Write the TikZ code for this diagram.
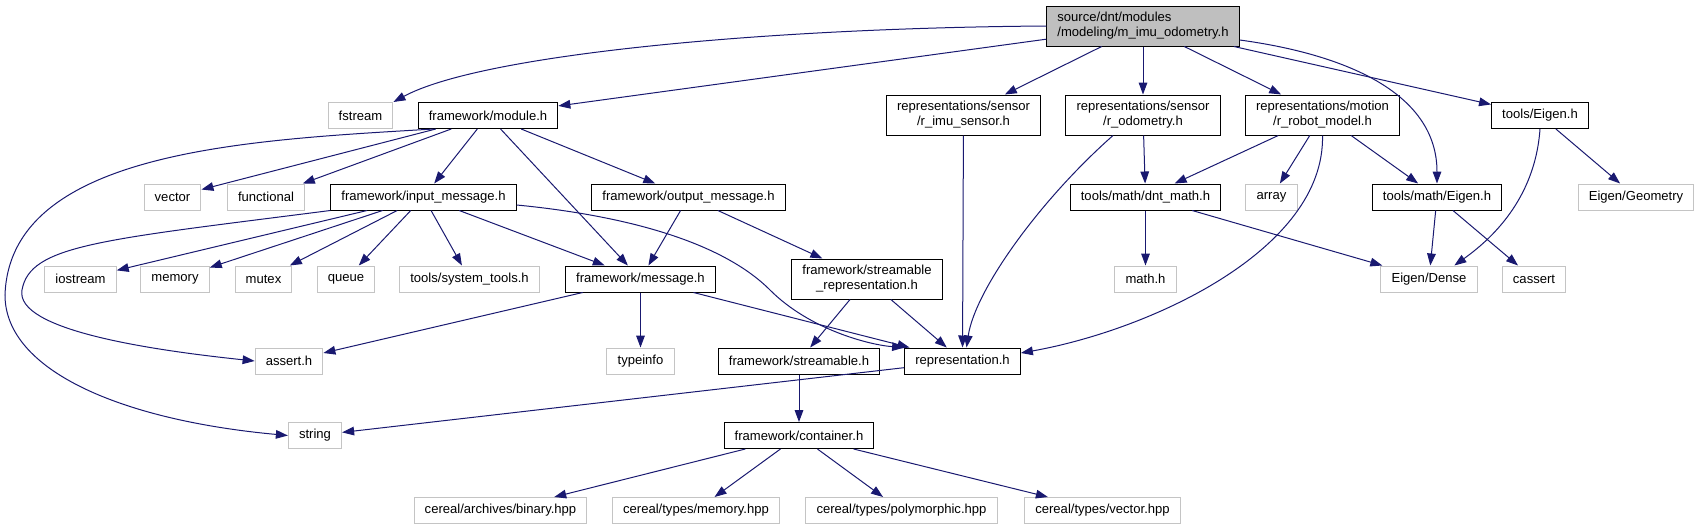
\documentclass[tikz,border=0pt]{standalone}
\usepackage{fontspec}
\setmainfont{Liberation Sans}
\usetikzlibrary{arrows.meta}
\definecolor{edgeblue}{RGB}{25,25,112}
\definecolor{boxgray}{RGB}{191,191,191}
\definecolor{linegray}{RGB}{196,196,196}

\begin{document}
\begin{tikzpicture}[x=0.75pt,y=-0.75pt,
    every node/.style={font=\fontsize{9.8}{11.25}\selectfont, inner xsep=8pt, inner ysep=2pt,
        minimum height=19.5pt, line width=0.75pt},
    file/.style={draw=black, fill=white},
    sys/.style={draw=linegray, fill=white},
    two/.style={minimum height=30pt, align=center},
    edge/.style={draw=edgeblue, line width=0.75pt, -{Triangle[length=9pt,width=6.5pt]}}
]
\useasboundingbox (0,0) rectangle (1697,529);

% the header itself
\node[file, fill=boxgray, two, align=left] (main) at (1143,26) {source/dnt/modules\\/modeling/m\_imu\_odometry.h};

% first level
\node[sys] (fstream) at (360.5,115.5) {fstream};
\node[file] (module) at (488,115.5) {framework/module.h};
\node[file, two] (imusensor) at (963.5,115) {representations/sensor\\/r\_imu\_sensor.h};
\node[file, two] (odometry) at (1143,115) {representations/sensor\\/r\_odometry.h};
\node[file, two] (robotmodel) at (1322.5,115) {representations/motion\\/r\_robot\_model.h};
\node[file] (toolseigen) at (1540,115.5) {tools/Eigen.h};

% second level
\node[sys] (vec) at (172.5,197) {vector};
\node[sys] (functional) at (266,197) {functional};
\node[file] (inmsg) at (423.5,197) {framework/input\_message.h};
\node[file] (outmsg) at (688.5,197) {framework/output\_message.h};
\node[file] (dntmath) at (1145.5,197) {tools/math/dnt\_math.h};
\node[sys] (array) at (1271.5,197) {array};
\node[file] (matheigen) at (1437,197) {tools/math/Eigen.h};
\node[sys] (geometry) at (1636,197) {Eigen/Geometry};

% third level
\node[sys] (iostream) at (80.5,279) {iostream};
\node[sys] (memory) at (175,279) {memory};
\node[sys] (mutex) at (263.5,279) {mutex};
\node[sys] (queue) at (346,279) {queue};
\node[sys] (systools) at (469.5,279) {tools/system\_tools.h};
\node[file] (message) at (640.5,279) {framework/message.h};
\node[file, two] (streamrepr) at (867,279) {framework/streamable\\\_representation.h};
\node[sys] (mathh) at (1145.5,279) {math.h};
\node[sys] (dense) at (1429,279) {Eigen/Dense};
\node[sys] (cassert) at (1534,279) {cassert};

% fourth level
\node[sys] (assert) at (289,361) {assert.h};
\node[sys] (typeinfo) at (640.5,361) {typeinfo};
\node[file] (streamable) at (799,361) {framework/streamable.h};
\node[file] (repr) at (962.5,361) {representation.h};

% bottom
\node[sys] (string) at (315,435.5) {string};
\node[file] (container) at (799,435.5) {framework/container.h};
\node[sys] (binary) at (500.5,510.5) {cereal/archives/binary.hpp};
\node[sys] (tmemory) at (696,510.5) {cereal/types/memory.hpp};
\node[sys] (polymorphic) at (901.5,510.5) {cereal/types/polymorphic.hpp};
\node[sys] (tvector) at (1102.5,510.5) {cereal/types/vector.hpp};

% includes of the header
\draw[edge] (main.west) .. controls (760,28) and (480,55) .. (fstream.north east);
\draw[edge] (main) -- (module);
\draw[edge] (main) -- (imusensor);
\draw[edge] (main) -- (odometry);
\draw[edge] (main) -- (robotmodel);
\draw[edge] (main) -- (toolseigen);
\draw[edge] ([yshift=-10.5pt]main.east) .. controls (1350,55) and (1437,95) .. (matheigen.north);

% framework/module.h
\draw[edge] ([xshift=12pt]module.south west) .. controls (250,140) and (10,150) .. (5,295)
    .. controls (5,370) and (120,420) .. (string.west);
\draw[edge] (module) -- (vec);
\draw[edge] (module) -- (functional);
\draw[edge] (module) -- (inmsg);
\draw[edge] (module) -- (message);
\draw[edge] (module) -- (outmsg);

% framework/input_message.h
\draw[edge] (inmsg) -- (iostream);
\draw[edge] (inmsg) -- (memory);
\draw[edge] (inmsg) -- (mutex);
\draw[edge] (inmsg) -- (queue);
\draw[edge] (inmsg) -- (systools);
\draw[edge] (inmsg) -- (message);
\draw[edge] ([yshift=-6pt]inmsg.east) .. controls (620,215) and (720,240) .. (770,290)
    .. controls (810,330) and (870,345) .. (repr.north west);
\draw[edge] (inmsg.south west) .. controls (100,240) and (30,245) .. (22,290)
    .. controls (15,330) and (150,350) .. (assert.west);

% framework/output_message.h and below
\draw[edge] (outmsg) -- (message);
\draw[edge] (outmsg) -- (streamrepr);
\draw[edge] (message) -- (assert);
\draw[edge] (message) -- (typeinfo);
\draw[edge] (message) -- (repr);
\draw[edge] (streamrepr) -- (streamable);
\draw[edge] (streamrepr) -- (repr);
\draw[edge] (streamable) -- (container);
\draw[edge] (container) -- (binary);
\draw[edge] (container) -- (tmemory);
\draw[edge] (container) -- (polymorphic);
\draw[edge] (container) -- (tvector);
\draw[edge] (repr) -- (string);

% representations
\draw[edge] (imusensor) -- (repr);
\draw[edge] ([xshift=-22.5pt]odometry.south) .. controls (1040,200) and (975,290) .. ([xshift=3pt]repr.north);
\draw[edge] (odometry) -- (dntmath);
\draw[edge] (robotmodel) -- (dntmath);
\draw[edge] (robotmodel) -- (array);
\draw[edge] (robotmodel) -- (matheigen);
\draw[edge] (robotmodel.south) .. controls (1325,250) and (1150,330) .. ([yshift=6pt]repr.east);

% tools
\draw[edge] (dntmath) -- (mathh);
\draw[edge] (dntmath) -- (dense);
\draw[edge] (matheigen) -- (dense);
\draw[edge] (matheigen) -- (cassert);
\draw[edge] (toolseigen.south) .. controls (1535,200) and (1490,240) .. ([xshift=19pt]dense.north);
\draw[edge] (toolseigen) -- (geometry);
\end{tikzpicture}
\end{document}
